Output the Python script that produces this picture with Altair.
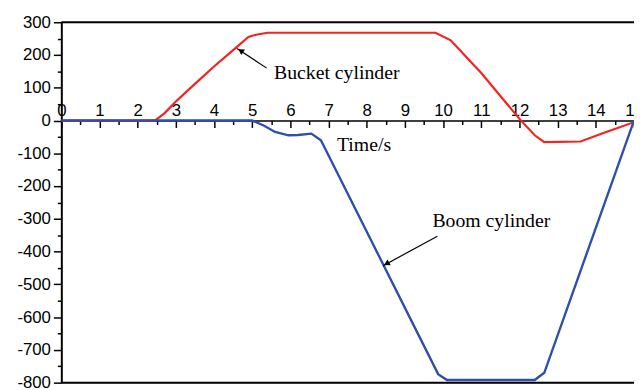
import altair as alt
import pandas as pd

# ---- data ----
bucket_t = [0, 2.45, 2.7, 3.0, 3.5, 4.0, 4.5, 4.9, 5.1, 5.4, 9.8, 10.2, 10.6, 11.0, 11.5, 12.0, 12.4, 12.65, 13.6, 14.2, 15.0]
bucket_v = [0, 0, 22, 58, 112, 165, 215, 255, 262, 268, 268, 245, 195, 145, 75, 5, -45, -66, -64, -38, -5]

boom_t = [0, 5.0, 5.3, 5.6, 5.95, 6.2, 6.55, 6.8, 9.87, 10.1, 12.4, 12.65, 15.0]
boom_v = [0, 0, -15, -35, -45, -44, -40, -60, -774, -792, -792, -770, 0]

label_text = ["Bucket cylinder", "Boom cylinder", "Time/s"]
label_x = [5.57, 9.72, 7.22]
label_y = [145, -307, -75]

arrow_x = [5.38, 9.85]
arrow_y = [160, -353]
arrow_x2 = [4.60, 8.43]
arrow_y2 = [220, -443]
head_x = [4.70, 8.52]
head_y = [213, -437]
head_angle = [304, 241]

border_vals = [300, -800]

RED = "#f5231c"
BLUE = "#2f4faa"

bucket = pd.DataFrame({"t": bucket_t, "v": bucket_v})
boom = pd.DataFrame({"t": boom_t, "v": boom_v})
labels = pd.DataFrame({"text": label_text, "t": label_x, "v": label_y})
arrows = pd.DataFrame({"t": arrow_x, "v": arrow_y, "t2": arrow_x2, "v2": arrow_y2})
heads = pd.DataFrame({"t": head_x, "v": head_y, "a": head_angle})
borders = pd.DataFrame({"v": border_vals})

W, H = 580, 365
x_scale = alt.Scale(domain=[0, 15], nice=False, zero=False)
y_scale = alt.Scale(domain=[-800, 300], nice=False, zero=False)

x_axis = alt.Axis(
    orient="bottom",
    offset=-H * 800 / 1100,
    values=[i * 0.5 for i in range(31)],
    labelExpr="datum.value % 1 === 0 ? '' + datum.value : ''",
    tickSize={"condition": {"test": "datum.value % 1 === 0", "value": 7}, "value": 4},
    labelPadding=-25,
    labelFont="Liberation Sans",
    labelFontSize=17,
    labelColor="black",
    tickColor="black",
    tickWidth=1.5,
    domainColor="black",
    domainWidth=1.5,
    grid=False,
    title=None,
    labelOverlap=False,
    labelFlush=False,
)
y_axis = alt.Axis(
    values=list(range(-800, 301, 50)),
    labelExpr="datum.value % 100 === 0 ? '' + datum.value : ''",
    tickSize={"condition": {"test": "datum.value % 100 === 0", "value": 8}, "value": 4},
    labelPadding=3,
    labelFont="Liberation Sans",
    labelFontSize=17,
    labelColor="black",
    tickColor="black",
    tickWidth=1.5,
    domainColor="black",
    domainWidth=2,
    grid=False,
    title=None,
    labelOverlap=False,
    labelFlush=False,
)


def X(f):
    return alt.X(f, type="quantitative", scale=x_scale, axis=x_axis, title=None)


def Y(f):
    return alt.Y(f, type="quantitative", scale=y_scale, axis=y_axis, title=None)


red_line = alt.Chart(bucket).mark_line(color=RED, strokeWidth=2.2, clip=True).encode(x=X("t"), y=Y("v"))
blue_line = alt.Chart(boom).mark_line(color=BLUE, strokeWidth=2.4, clip=True).encode(x=X("t"), y=Y("v"))
border = alt.Chart(borders).mark_rule(color="black", strokeWidth=2).encode(y=Y("v"))
texts = alt.Chart(labels).mark_text(
    font="Liberation Serif", fontSize=20, color="black", align="left", baseline="middle"
).encode(x=X("t"), y=Y("v"), text="text:N")
arrow_lines = alt.Chart(arrows).mark_rule(color="black", strokeWidth=1.2).encode(
    x=X("t"), y=Y("v"), x2="t2:Q", y2="v2:Q"
)
arrow_heads = alt.Chart(heads).mark_point(
    shape="triangle-up", filled=True, color="black", size=45, opacity=1
).encode(x=X("t"), y=Y("v"), angle=alt.Angle("a:Q", scale=None))

chart = (
    alt.layer(red_line, blue_line, border, arrow_lines, arrow_heads, texts)
    .properties(
        width=W,
        height=H,
        autosize=alt.AutoSizeParams(type="none"),
        padding={"left": 54, "top": 12, "right": 0, "bottom": 4},
    )
    .configure_view(stroke=None)
    .configure(background="white")
)

chart.save("out.html", embed_options={"renderer": "svg", "actions": False})
